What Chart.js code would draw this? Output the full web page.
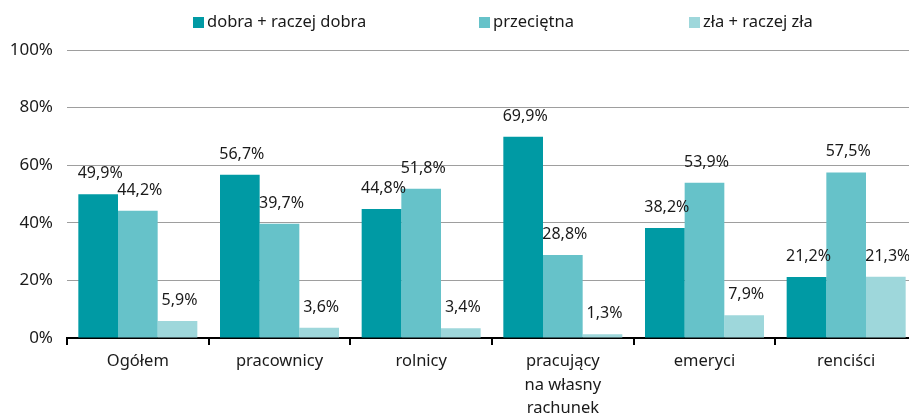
<!DOCTYPE html>
<html>
<head>
<meta charset="utf-8">
<script src="https://cdn.jsdelivr.net/npm/chart.js@4"></script>
<style>
  html, body { margin: 0; padding: 0; background: #fff; overflow: hidden; }
  /* the plot runs a little past the right edge in the original */
  #wrap { width: 917px; height: 419px; }
</style>
</head>
<body>
<div id="wrap"><canvas id="myChart"></canvas></div>
<script>
// categories and series
var categories = ["Ogółem", "pracownicy", "rolnicy", ["pracujący", "na własny", "rachunek"], "emeryci", "renciści"];
var seriesNames = ["dobra + raczej dobra", "przeciętna", "zła + raczej zła"];
var good = [49.9, 56.7, 44.8, 69.9, 38.2, 21.2];
var average = [44.2, 39.7, 51.8, 28.8, 53.9, 57.5];
var bad = [5.9, 3.6, 3.4, 1.3, 7.9, 21.3];
var yTicks = [0, 20, 40, 60, 80, 100];
var colors = ["#009aa4", "#66c2c9", "#9ed7db"];

var FONT = "'Noto Sans', sans-serif";
var TEXT = "#1a1a1a";

// draws the value above each bar
var valueLabels = {
    id: "valueLabels",
    afterDatasetsDraw: function(chart) {
        var ctx = chart.ctx;
        ctx.save();
        ctx.font = "16px " + FONT;
        ctx.fillStyle = TEXT;
        ctx.textAlign = "center";
        ctx.textBaseline = "alphabetic";
        chart.data.datasets.forEach(function(ds, i) {
            var meta = chart.getDatasetMeta(i);
            meta.data.forEach(function(bar, j) {
                var txt = ds.data[j].toFixed(1).replace(".", ",") + "%";
                ctx.fillText(txt, bar.x + 2, bar.y - 16);
            });
        });
        ctx.restore();
    }
};

// legend drawn by hand so the items can sit far apart
var legendX = [193, 479, 689];
var topLegend = {
    id: "topLegend",
    afterDraw: function(chart) {
        var ctx = chart.ctx;
        ctx.save();
        ctx.font = "16.5px " + FONT;
        ctx.textBaseline = "middle";
        ctx.textAlign = "left";
        chart.data.datasets.forEach(function(ds, i) {
            ctx.fillStyle = ds.backgroundColor;
            ctx.fillRect(legendX[i], 17, 11, 11);
            ctx.fillStyle = TEXT;
            ctx.fillText(ds.label, legendX[i] + 14, 22);
        });
        ctx.restore();
    }
};

var ctx = document.getElementById("myChart");
new Chart(ctx, {
    type: "bar",
    data: {
        labels: categories,
        datasets: [
            { label: seriesNames[0], data: good, backgroundColor: colors[0] },
            { label: seriesNames[1], data: average, backgroundColor: colors[1] },
            { label: seriesNames[2], data: bad, backgroundColor: colors[2] }
        ]
    },
    options: {
        responsive: true,
        maintainAspectRatio: false,
        animation: false,
        datasets: {
            bar: { categoryPercentage: 0.84, barPercentage: 1.0 }
        },
        layout: { padding: { left: 0, right: 0, top: 50, bottom: 0 } },
        plugins: {
            legend: { display: false },
            tooltip: { enabled: false }
        },
        scales: {
            x: {
                grid: {
                    display: true,
                    drawOnChartArea: false,
                    offset: true,
                    color: "#000",
                    lineWidth: 2,
                    tickLength: 7
                },
                border: { display: true, color: "#000", width: 2 },
                ticks: {
                    color: TEXT,
                    padding: 5,
                    font: { family: FONT, size: 16.5, lineHeight: 1.42 },
                    maxRotation: 0,
                    autoSkip: false
                },
                afterFit: function(scale) { scale.height = 81; }
            },
            y: {
                min: 0,
                max: 100,
                afterBuildTicks: function(scale) {
                    scale.ticks = yTicks.map(function(v) { return { value: v }; });
                },
                grid: { color: "#9e9e9e", lineWidth: 1, drawTicks: false },
                border: { display: false },
                ticks: {
                    color: TEXT,
                    padding: 14,
                    font: { family: FONT, size: 17 },
                    callback: function(v) { return v + "%"; }
                },
                afterFit: function(scale) { scale.width = 67; }
            }
        }
    },
    plugins: [valueLabels, topLegend]
});
</script>
</body>
</html>
